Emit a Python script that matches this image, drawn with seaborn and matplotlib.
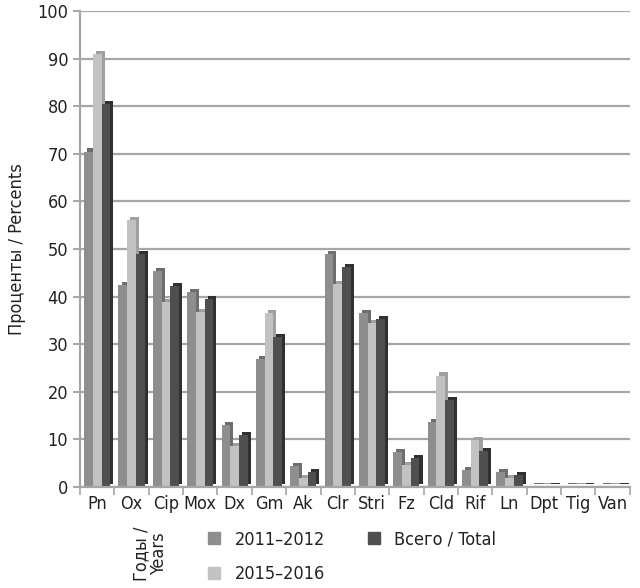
import pandas as pd
import numpy as np
import matplotlib.pyplot as plt
import matplotlib.patheffects as pe
import seaborn as sns

# данные (проценты)
drugs = ['Pn', 'Ox', 'Cip', 'Mox', 'Dx', 'Gm', 'Ak', 'Clr', 'Stri', 'Fz',
         'Cld', 'Rif', 'Ln', 'Dpt', 'Tig', 'Van']
y2011 = [70.5, 42.4, 45.3, 41.0, 13.0, 26.9, 4.3, 49.0, 36.5, 7.4,
         13.7, 3.6, 3.2, 0.2, 0.2, 0.2]
y2015 = [91.0, 56.0, 38.8, 36.7, 8.5, 36.5, 1.9, 42.7, 34.5, 4.6,
         23.4, 9.8, 1.9, 0.2, 0.2, 0.2]
total = [80.5, 49.0, 42.2, 39.4, 10.9, 31.5, 3.2, 46.2, 35.2, 6.1,
         18.3, 7.6, 2.5, 0.2, 0.2, 0.2]
periods = ['2011–2012', '2015–2016', 'Всего / Total']
colors = ['#8e8e8e', '#c2c2c2', '#4f4f4f']
sides = ['#6e6e6e', '#a0a0a0', '#303030']

df = pd.DataFrame({
    'drug': drugs * 3,
    'period': [periods[0]] * 16 + [periods[1]] * 16 + [periods[2]] * 16,
    'value': y2011 + y2015 + total,
})

sns.set_style('white')
plt.rcParams['font.family'] = ['DejaVu Sans']
plt.rcParams['font.stretch'] = 'condensed'
txt = '#222222'

fig = plt.figure(figsize=(6.4, 5.88), dpi=100)
ax = fig.add_axes([0.125, 0.172, 0.859, 0.809])

ax.yaxis.grid(True, color='#a6a6a6', linewidth=1.6)
ax.set_axisbelow(True)

sns.barplot(data=df, x='drug', y='value', hue='period', hue_order=periods,
            palette=colors, width=0.76, saturation=1, ax=ax, legend=False,
            linewidth=0, edgecolor='none')

# псевдо-3D: боковая грань как тень
for i, cont in enumerate(ax.containers):
    for bar in cont:
        bar.set_path_effects([
            pe.SimplePatchShadow(offset=(2.2, 2.2), shadow_rgbFace=sides[i], alpha=1),
            pe.Normal()])

ax.set_ylim(0, 100)
ax.set_xlim(-0.5, len(drugs) - 0.5)
ax.set_yticks(range(0, 101, 10))
ax.set_ylabel('Проценты / Percents', fontsize=13, color=txt, labelpad=8)
ax.set_xlabel('')

for s in ['top', 'right']:
    ax.spines[s].set_visible(False)
for s in ['left', 'bottom']:
    ax.spines[s].set_color('#a6a6a6')
    ax.spines[s].set_linewidth(1.6)

ax.tick_params(axis='y', labelsize=13, colors='#a6a6a6', labelcolor=txt,
               length=5, width=1.4, left=True)
ax.tick_params(axis='x', labelsize=13, labelcolor=txt, length=0, pad=6)
ax.set_xticks(np.arange(-0.5, len(drugs), 1), minor=True)
ax.tick_params(axis='x', which='minor', length=6, width=1.2, colors='#a6a6a6',
               bottom=True)

handles = [plt.Rectangle((0, 0), 1, 1, color=c) for c in colors]
fig.legend(handles, periods, ncol=2, loc='upper left',
           bbox_to_anchor=(0.300, 0.125), frameon=False, fontsize=13,
           handlelength=0.65, handleheight=0.65, columnspacing=2.4,
           labelspacing=0.9, handletextpad=0.8, labelcolor=txt)
fig.text(0.235, 0.058, 'Годы /\nYears', rotation=90, ha='center', va='center',
         fontsize=13, color=txt, linespacing=0.95)

plt.savefig('out.png', dpi=100)
